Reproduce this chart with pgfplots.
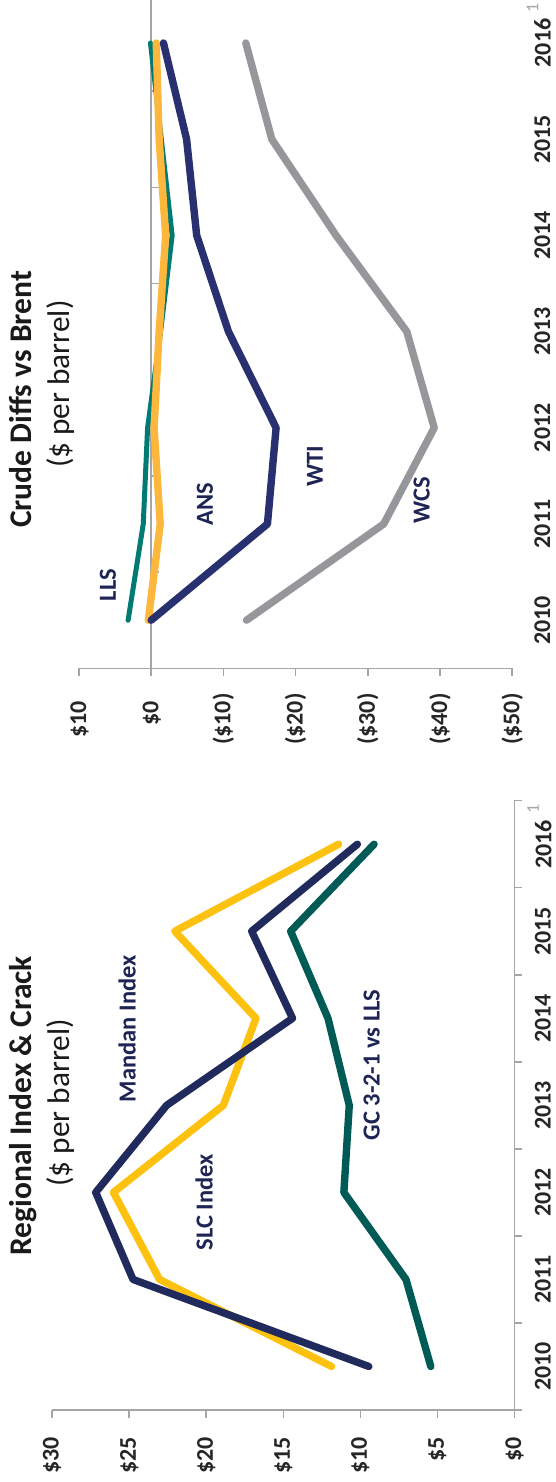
\documentclass[border=0pt]{standalone}
\usepackage{pgfplots}
\pgfplotsset{compat=1.18}
\usepackage{fontspec}
\setmainfont{Carlito}

\definecolor{axisgray}{HTML}{A6A6A6}
\definecolor{ticktext}{HTML}{262626}
\definecolor{titletext}{HTML}{1A1A1A}
\definecolor{labelnavy}{HTML}{1E2555}
\definecolor{footgray}{HTML}{A6A6A6}
\definecolor{mandan}{HTML}{212A5C}
\definecolor{slc}{HTML}{FDC20F}
\definecolor{gc}{HTML}{005B57}
\definecolor{wti}{HTML}{28306F}
\definecolor{ans}{HTML}{FDB73D}
\definecolor{lls}{HTML}{007A73}
\definecolor{wcs}{HTML}{96979A}

\newcommand{\yearfoot}{2016\rlap{\smash{\kern3pt\raisebox{6.2pt}{\fontsize{9}{9}\selectfont\mdseries\color{footgray}1}}}}

\pgfplotsset{
  panel/.style={
    scale only axis, anchor=south west, clip=false,
    xmin=-0.5, xmax=6.5,
    axis x line*=bottom, axis y line*=left,
    axis line style={draw=axisgray, line width=0.75pt},
    tick style={draw=axisgray, line width=0.75pt},
    tick align=outside, major tick length=4pt, minor tick length=4pt,
    xtick={0,...,6},
    xticklabels={2010,2011,2012,2013,2014,2015,\yearfoot},
    major x tick style={draw=none},
    ticklabel style={font=\fontsize{12}{14}\selectfont\bfseries, text=ticktext},
    xticklabel style={anchor=north, inner sep=0pt},
    yticklabel style={anchor=east, inner sep=0pt},
  },
  series/.style={line width=3.7pt, line cap=round, line join=round, no markers},
}

\begin{document}
\begin{tikzpicture}[rotate=90, transform shape]
\path[use as bounding box] (0pt,0pt) rectangle (741pt,278pt);
\clip (0pt,0pt) rectangle (741pt,278pt);

% Regional index and crack spread
\begin{axis}[panel,
  at={(36pt,20.75pt)}, width=304.65pt, height=231.2pt,
  ymin=0, ymax=30, ytick={0,5,...,30},
  yticklabels={\$0,\$5,\$10,\$15,\$20,\$25,\$30},
  minor xtick={-0.5,0.5,...,6.5},
  xticklabel style={yshift=-6pt},
  yticklabel style={xshift=-9.5pt},
]
\addplot[series, gc] coordinates {(0,5.43) (1,7.04) (2,11.07) (3,10.72) (4,12.10) (5,14.52) (6,9.11)};
\addplot[series, slc] coordinates {(0,11.87) (1,23.03) (2,26.02) (3,18.89) (4,16.77) (5,22.04) (6,11.41)};
\addplot[series, mandan] coordinates {(0,9.45) (1,24.75) (2,27.17) (3,22.57) (4,14.40) (5,17.05) (6,10.19)};
\end{axis}

% Crude differentials versus Brent
\begin{axis}[panel,
  at={(406.85pt,21.9pt)}, width=336.7pt, height=216.6pt,
  ymin=-50, ymax=10, ytick={-50,-40,...,10},
  yticklabels={(\$50),(\$40),(\$30),(\$20),(\$10),\$0\phantom{)},\$10\phantom{)}},
  x axis line style={draw=none},
  xticklabel style={yshift=-6.85pt},
  yticklabel style={xshift=-8.35pt},
]
% zero line with category separators
\draw[axisgray, line width=0.75pt] (axis cs:-0.5,0) -- (axis cs:6.5,0);
\pgfplotsinvokeforeach{-0.5,0.5,1.5,2.5,3.5,4.5,5.5,6.5}{
  \draw[axisgray, line width=0.75pt] (axis cs:#1,0) -- (axis cs:#1,-1.108);
}
\addplot[series, lls, line width=2.5pt] coordinates {(0,3.2) (1,1.1) (2,0.5) (3,-1.3) (4,-2.9) (5,-1.4) (6,0.1)};
\addplot[series, ans] coordinates {(0,0.4) (1,-1.25) (2,-0.4) (3,-1.1) (4,-2.0) (5,-1.1) (6,-0.7)};
\addplot[series, wti] coordinates {(0,0.0) (1,-16.1) (2,-17.3) (3,-10.7) (4,-6.3) (5,-4.9) (6,-1.7)};
\addplot[series, wcs] coordinates {(0,-13.2) (1,-32.2) (2,-39.2) (3,-35.4) (4,-25.6) (5,-16.7) (6,-13.1)};
\end{axis}

% titles
\node[anchor=base, font=\fontsize{15.75}{18}\selectfont\bfseries, text=titletext] at (188.1pt,262.25pt) {Regional Index \& Crack};
\node[anchor=base, font=\fontsize{15.65}{18}\selectfont, text=titletext] at (189.6pt,243.25pt) {(\$ per barrel)};
\node[anchor=base, font=\fontsize{15.75}{18}\selectfont\bfseries, text=titletext] at (541.25pt,262.25pt) {Crude Diffs vs Brent};
\node[anchor=base, font=\fontsize{15.65}{18}\selectfont, text=titletext] at (548.9pt,243.25pt) {(\$ per barrel)};

% series labels
\begin{scope}[every node/.style={font=\fontsize{12.25}{14}\selectfont\bfseries, text=labelnavy, inner sep=0pt}]
\node at (226.65pt,214.5pt) {Mandan Index};
\node at (139.75pt,176pt) {SLC Index};
\node at (208.5pt,92.2pt) {GC 3-2-1 vs LLS};
\node at (448.5pt,224pt) {LLS};
\node at (489pt,175.5pt) {ANS};
\node at (508pt,120.5pt) {WTI};
\node at (491pt,67.15pt) {WCS};
\end{scope}
\end{tikzpicture}
\end{document}
